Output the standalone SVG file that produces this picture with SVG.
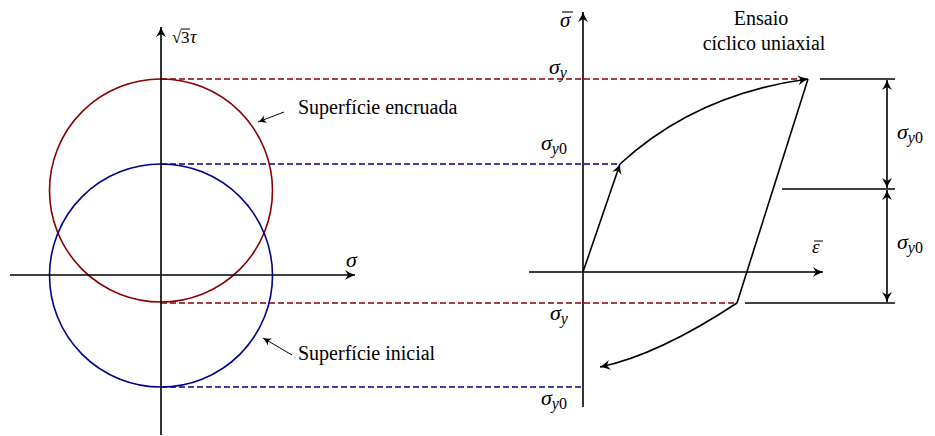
<svg xmlns="http://www.w3.org/2000/svg" width="935" height="436" viewBox="0 0 935 436">
<style>
.ax{stroke:#000;stroke-width:1.6;fill:none}
.ln{stroke:#000;stroke-width:1.6;fill:none}
.red{stroke:#8b0000;stroke-width:1.6;fill:none}
.blue{stroke:#00008b;stroke-width:1.6;fill:none}
.dr{stroke:#8b0000;stroke-width:1.5;stroke-dasharray:6 3;fill:none}
.db{stroke:#00008b;stroke-width:1.5;stroke-dasharray:6 3;fill:none}
.thin{stroke:#000;stroke-width:1;fill:none}
.m{font-family:"Liberation Serif","DejaVu Serif",serif;font-style:italic;fill:#000}
.t{font-family:"Liberation Serif","DejaVu Serif",serif;fill:#000}
</style>
<defs>
<marker id="ar" viewBox="-11 -6 12 12" markerWidth="12" markerHeight="12" refX="0" refY="0" orient="auto-start-reverse" markerUnits="userSpaceOnUse">
<path d="M0,0 C-3,-1 -7,-3 -10,-5 L-7,0 L-10,5 C-7,3 -3,1 0,0 Z" fill="#000"/>
</marker>
<marker id="as" viewBox="-9 -5 10 10" markerWidth="10" markerHeight="10" refX="0" refY="0" orient="auto" markerUnits="userSpaceOnUse">
<path d="M0,0 C-3,-1 -5,-2 -8,-4 L-6,0 L-8,4 C-5,2 -3,1 0,0 Z" fill="#000"/>
</marker>
</defs>

<g id="circles">
<circle id="red-circle" cx="161" cy="190.5" r="111.5" class="red"/>
<circle id="blue-circle" cx="161" cy="275.5" r="111.5" class="blue"/>
</g>

<g id="connectors">
<line x1="161" y1="79" x2="806" y2="79" class="dr"/>
<line x1="161" y1="164" x2="620" y2="164" class="db"/>
<line x1="161" y1="303" x2="737" y2="303" class="dr"/>
<line x1="161" y1="387" x2="583" y2="387" class="db"/>
<line x1="161" y1="435" x2="161" y2="27" class="ax" marker-end="url(#ar)"/>
<line x1="10" y1="275" x2="355" y2="275" class="ax" marker-end="url(#ar)"/>
<line x1="583" y1="407" x2="583" y2="12" class="ax" marker-end="url(#ar)"/>
<line x1="529" y1="272" x2="823" y2="272" class="ax" marker-end="url(#ar)"/>
<line x1="583" y1="272" x2="620" y2="164" class="ln" marker-end="url(#ar)"/>
<path d="M620,164 Q696,94 808,79" class="ln" marker-end="url(#ar)"/>
<line x1="808" y1="79" x2="737" y2="303" class="ln"/>
<path d="M737,303 Q658,355 600,367" class="ln" marker-end="url(#ar)"/>
<line x1="820" y1="79" x2="895" y2="79" class="ln"/>
<line x1="782" y1="189" x2="895" y2="189" class="ln"/>
<line x1="745" y1="303" x2="895" y2="303" class="ln"/>
<line x1="887" y1="80" x2="887" y2="188" class="ln" marker-start="url(#ar)" marker-end="url(#ar)"/>
<line x1="887" y1="190" x2="887" y2="302" class="ln" marker-start="url(#ar)" marker-end="url(#ar)"/>
<line x1="284" y1="112" x2="258" y2="122" class="thin" marker-end="url(#as)"/>
<line x1="292" y1="355" x2="263" y2="338" class="thin" marker-end="url(#as)"/>
</g>

<g id="labels">
<g id="label-sqrt3tau">
<text x="172" y="43" class="t" font-size="17">√</text>
<line x1="181" y1="29" x2="190" y2="29" stroke="#000" stroke-width="1"/>
<text x="181" y="43" class="t" font-size="17">3</text>
<text x="190" y="43" class="m" font-size="18">τ</text>
</g>
<text id="label-sigma" x="346" y="267" class="m" font-size="22">σ</text>
<g id="label-sigmabar">
<text x="560" y="27" class="m" font-size="21">σ</text>
<line x1="562" y1="12" x2="573" y2="12" stroke="#000" stroke-width="1.1"/>
</g>
<g id="label-epsbar">
<text x="812" y="253" class="m" font-size="19">ε</text>
<line x1="814" y1="241" x2="823" y2="241" stroke="#000" stroke-width="1"/>
</g>
<g id="label-sy-top"><text x="549" y="74" class="m" font-size="22">σ<tspan font-size="16" dy="4">y</tspan></text></g>
<g id="label-sy0-top"><text x="541" y="150" class="m" font-size="22">σ<tspan font-size="16" dy="4">y</tspan><tspan font-size="16" font-style="normal">0</tspan></text></g>
<g id="label-sy-bot"><text x="550" y="320" class="m" font-size="22">σ<tspan font-size="16" dy="4">y</tspan></text></g>
<g id="label-sy0-bot"><text x="541" y="405" class="m" font-size="22">σ<tspan font-size="16" dy="4">y</tspan><tspan font-size="16" font-style="normal">0</tspan></text></g>
<g id="label-sy0-r1"><text x="897" y="139" class="m" font-size="22">σ<tspan font-size="16" dy="4">y</tspan><tspan font-size="16" font-style="normal">0</tspan></text></g>
<g id="label-sy0-r2"><text x="897" y="249" class="m" font-size="22">σ<tspan font-size="16" dy="4">y</tspan><tspan font-size="16" font-style="normal">0</tspan></text></g>
<g id="label-ensaio">
<text x="761" y="25" class="t" font-size="20" text-anchor="middle">Ensaio</text>
<text x="764" y="50" class="t" font-size="20" text-anchor="middle">cíclico uniaxial</text>
</g>
<text id="label-encruada" x="298" y="114" class="t" font-size="20">Superfície encruada</text>
<text id="label-inicial" x="298" y="360" class="t" font-size="20">Superfície inicial</text>
</g>
</svg>
